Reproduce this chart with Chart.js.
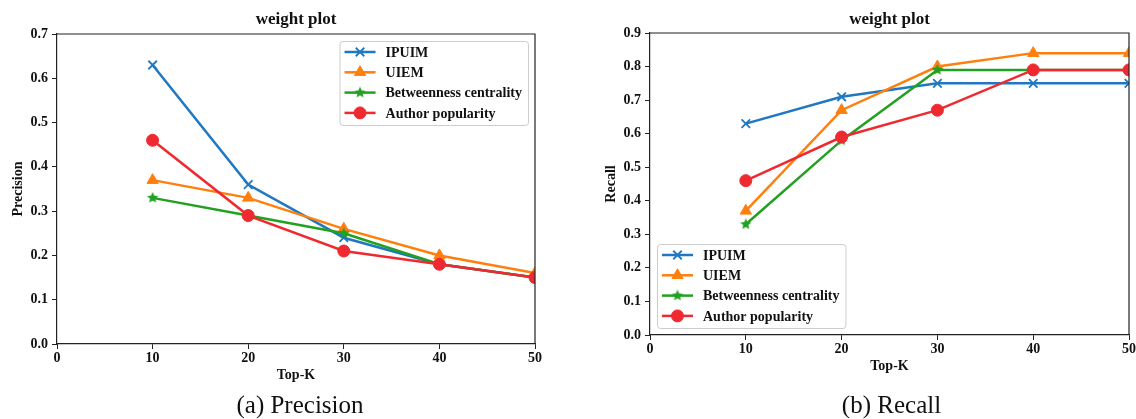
<!DOCTYPE html>
<html>
<head>
<meta charset="utf-8">
<script src="https://cdn.jsdelivr.net/npm/chart.js@4/dist/chart.umd.min.js"></script>
<style>
  html, body { margin: 0; padding: 0; background: #fff; overflow: hidden; }
  #wrap { position: relative; width: 1136px; height: 419px; overflow: hidden; }
  canvas { position: absolute; top: 0; }
  .caption {
    position: absolute; top: 392px; height: 26px; line-height: 26px;
    text-align: center; font-family: "Liberation Serif", serif; font-size: 25px; color: #111;
  }
</style>
</head>
<body>
<div id="wrap">
  <canvas id="precision" width="592" height="419" style="left:0px"></canvas>
  <canvas id="recall" width="593" height="419" style="left:593px"></canvas>
  <div class="caption" style="left:0px;width:600px">(a) Precision</div>
  <div class="caption" style="left:593px;width:597px">(b) Recall</div>
</div>
<script>
// Top-K cut-offs on the x axis
const topK = [10, 20, 30, 40, 50];
const xTickValues = [0, 10, 20, 30, 40, 50];

// Series names
const seriesNames = ['IPUIM', 'UIEM', 'Betweenness centrality', 'Author popularity'];

// Precision@K
const precisionIPUIM = [0.63, 0.36, 0.24, 0.18, 0.15];
const precisionUIEM = [0.37, 0.33, 0.26, 0.20, 0.16];
const precisionBetweenness = [0.33, 0.29, 0.25, 0.18, 0.15];
const precisionAuthor = [0.46, 0.29, 0.21, 0.18, 0.15];
const precisionTicks = [0.0, 0.1, 0.2, 0.3, 0.4, 0.5, 0.6, 0.7];

// Recall@K
const recallIPUIM = [0.63, 0.71, 0.75, 0.75, 0.75];
const recallUIEM = [0.37, 0.67, 0.80, 0.84, 0.84];
const recallBetweenness = [0.33, 0.58, 0.79, 0.79, 0.79];
const recallAuthor = [0.46, 0.59, 0.67, 0.79, 0.79];
const recallTicks = [0.0, 0.1, 0.2, 0.3, 0.4, 0.5, 0.6, 0.7, 0.8, 0.9];

const FONT = '"Liberation Serif", "Times New Roman", serif';
const AXIS = '#222222';
const COLORS = ['#1f78c1', '#ff7f0e', '#22a022', '#ee2a30'];

// filled five-point star used as the betweenness marker
function starMarker(color, r) {
  const c = document.createElement('canvas');
  const s = Math.ceil(r * 2 + 2);
  c.width = c.height = s;
  const g = c.getContext('2d');
  g.fillStyle = color;
  g.beginPath();
  for (let i = 0; i < 10; i++) {
    const rad = i % 2 ? r * 0.45 : r;
    const a = -Math.PI / 2 + i * Math.PI / 5;
    g.lineTo(s / 2 + rad * Math.cos(a), s / 2 + rad * Math.sin(a));
  }
  g.closePath();
  g.fill();
  return c;
}

const markers = [
  { pointStyle: 'crossRot', radius: 6, borderWidth: 1.8 },
  { pointStyle: 'triangle', radius: 6.5, borderWidth: 1 },
  { pointStyle: starMarker(COLORS[2], 6), radius: 6, borderWidth: 0 },
  { pointStyle: 'circle', radius: 6, borderWidth: 1 }
];

function buildDatasets(seriesList) {
  return seriesList.map((vals, i) => ({
    label: seriesNames[i],
    data: topK.map((k, j) => ({ x: k, y: vals[j] })),
    borderColor: COLORS[i],
    backgroundColor: COLORS[i],
    borderWidth: 2.5,
    tension: 0,
    fill: false,
    clip: 0,
    order: seriesList.length - i,
    pointStyle: markers[i].pointStyle,
    pointRadius: markers[i].radius,
    pointHoverRadius: markers[i].radius,
    pointBorderWidth: markers[i].borderWidth,
    pointBorderColor: COLORS[i],
    pointBackgroundColor: COLORS[i]
  }));
}

// closes the axes box with top and right spines, and centres the title over the axes
const frame = {
  id: 'frame',
  afterDraw(chart, args, opts) {
    const { ctx, chartArea: a } = chart;
    ctx.save();
    ctx.strokeStyle = AXIS;
    ctx.lineWidth = 1.2;
    ctx.beginPath();
    ctx.moveTo(a.left, a.top);
    ctx.lineTo(a.right, a.top);
    ctx.lineTo(a.right, a.bottom);
    ctx.stroke();
    ctx.fillStyle = '#111';
    ctx.font = 'bold 17px ' + FONT;
    ctx.textAlign = 'center';
    ctx.textBaseline = 'middle';
    ctx.fillText(opts.title, (a.left + a.right) / 2, 19.5);
    ctx.restore();
  }
};

// legend drawn inside the plotting area
const insideLegend = {
  id: 'insideLegend',
  afterDatasetsDraw(chart, args, opts) {
    const { ctx, chartArea: a } = chart;
    const sets = chart.data.datasets;
    ctx.save();
    ctx.font = 'bold 14px ' + FONT;
    const tw = Math.max(...sets.map(d => ctx.measureText(d.label).width));
    const rowH = 20.3, inset = 7;
    const w = 46 + tw + 6;
    const h = 84;
    const x = opts.corner === 'upper right' ? a.right - inset - w : a.left + inset;
    const y = opts.corner === 'upper right' ? a.top + inset : a.bottom - inset - h;
    ctx.beginPath();
    ctx.roundRect(x + 0.5, y + 0.5, w, h, 3);
    ctx.fillStyle = 'rgba(255,255,255,0.8)';
    ctx.fill();
    ctx.strokeStyle = '#cccccc';
    ctx.lineWidth = 1;
    ctx.stroke();
    sets.forEach((d, i) => {
      const cy = y + 11 + i * rowH;
      ctx.strokeStyle = d.borderColor;
      ctx.lineWidth = 2.5;
      ctx.beginPath();
      ctx.moveTo(x + 5, cy);
      ctx.lineTo(x + 36, cy);
      ctx.stroke();
      ctx.fillStyle = d.pointBackgroundColor;
      ctx.strokeStyle = d.pointBorderColor;
      ctx.lineWidth = d.pointBorderWidth;
      Chart.helpers.drawPoint(ctx, {
        pointStyle: d.pointStyle, radius: d.pointRadius, rotation: 0, borderWidth: d.pointBorderWidth
      }, x + 20.5, cy);
      ctx.fillStyle = '#111';
      ctx.textBaseline = 'middle';
      ctx.textAlign = 'left';
      ctx.fillText(d.label, x + 46, cy + 1);
    });
    ctx.restore();
  }
};

function makeChart(id, seriesList, yTicks, yTitle, legendCorner, plotTop, layoutBottom) {
  const yMax = yTicks[yTicks.length - 1];
  return new Chart(document.getElementById(id), {
    type: 'line',
    data: { datasets: buildDatasets(seriesList) },
    plugins: [frame, insideLegend],
    options: {
      responsive: false,
      animation: false,
      events: [],
      layout: { padding: { left: 0, right: 57, top: plotTop, bottom: layoutBottom } },
      plugins: {
        legend: { display: false },
        tooltip: { enabled: false },
        title: { display: false },
        frame: { title: 'weight plot' },
        insideLegend: { corner: legendCorner }
      },
      scales: {
        x: {
          type: 'linear',
          min: 0,
          max: 50,
          afterBuildTicks: s => { s.ticks = xTickValues.map(v => ({ value: v })); },
          afterFit: s => { s.height = 44; },
          ticks: {
            color: '#111',
            padding: 1,
            maxRotation: 0,
            font: { family: FONT, size: 14, weight: 'bold' },
            callback: v => String(v)
          },
          grid: { drawOnChartArea: false, drawTicks: true, tickLength: 5, tickColor: AXIS, tickWidth: 1 },
          border: { display: true, color: AXIS, width: 1.2 },
          title: {
            display: true, text: 'Top-K', color: '#111',
            font: { family: FONT, size: 14, weight: 'bold', lineHeight: 1.2 },
            padding: { top: 0, bottom: 4 }
          }
        },
        y: {
          type: 'linear',
          min: 0,
          max: yMax,
          afterBuildTicks: s => { s.ticks = yTicks.map(v => ({ value: v })); },
          afterFit: s => { s.width = 57; },
          ticks: {
            color: '#111',
            padding: 4,
            font: { family: FONT, size: 14, weight: 'bold' },
            callback: v => Number(v).toFixed(1)
          },
          grid: { drawOnChartArea: false, drawTicks: true, tickLength: 5, tickColor: AXIS, tickWidth: 1 },
          border: { display: true, color: AXIS, width: 1.2 },
          title: {
            display: true, text: yTitle, color: '#111',
            font: { family: FONT, size: 14, weight: 'bold', lineHeight: 1.2 },
            padding: { top: 10, bottom: 0 }
          }
        }
      }
    }
  });
}

makeChart('precision',
  [precisionIPUIM, precisionUIEM, precisionBetweenness, precisionAuthor],
  precisionTicks, 'Precision', 'upper right', 34, 31);

makeChart('recall',
  [recallIPUIM, recallUIEM, recallBetweenness, recallAuthor],
  recallTicks, 'Recall', 'lower left', 33, 40);
</script>
</body>
</html>
